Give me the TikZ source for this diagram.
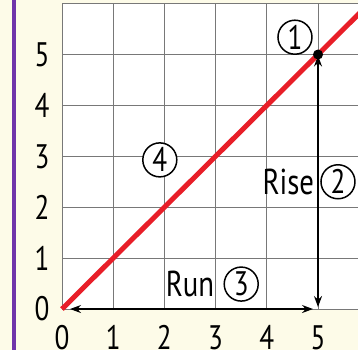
\documentclass[tikz,border=0pt]{standalone}
\usepackage{fontspec}
\setmainfont{PT Sans}[FakeStretch=0.8]
\usetikzlibrary{arrows.meta}
\definecolor{cream}{RGB}{253,251,232}
\definecolor{gridgray}{RGB}{120,120,120}
\definecolor{linered}{RGB}{232,30,40}
\definecolor{barpurple}{RGB}{112,52,170}
\tikzset{
  tick/.style={font=\fontsize{34}{36}\selectfont, inner sep=0pt},
  lbl/.style={font=\fontsize{36}{38}\selectfont, inner sep=0pt},
  circnum/.style={draw=black, line width=1.5pt, fill=white, circle, minimum size=34pt, inner sep=0pt, font=\fontsize{34}{36}\selectfont},
  measure/.style={line width=1.3pt, {Stealth[length=11pt,width=8pt]}-{Stealth[length=11pt,width=8pt]}},
}
\begin{document}
\begin{tikzpicture}[x=51.2pt,y=50.9pt]
\useasboundingbox (-1.211,-0.805) rectangle (5.781,6.071);
\clip (-1.211,-0.805) rectangle (5.781,6.071);
\fill[cream] (-1.211,-0.805) rectangle (5.781,6.071);
\fill[barpurple] (-0.985,-0.805) rectangle (-0.895,6.071);
\fill[white] (0,0) rectangle (5.9,6);
\foreach \i in {0,...,5} \draw[gridgray, line width=0.9pt] (\i,0) -- (\i,6);
\foreach \j in {0,...,6} \draw[gridgray, line width=0.9pt] (0,\j) -- (5.9,\j);
% tick labels
\foreach \i in {0,...,5} {
  \node[tick] (xl\i) at (\i,-0.56) {\i};
  \node[tick] (yl\i) at (-0.39,\i) {\i};
}
\coordinate (O) at (0,0);
\coordinate (X) at (5,0);
\coordinate (P) at (5,5);
\coordinate (E) at (6,6);
% measures
\draw[measure, shorten <=8pt, shorten >=5pt] (O) -- (X);
\draw[measure, shorten <=2pt, shorten >=1pt] (X) -- (P);
% red line
\draw[linered, line width=5pt] (O) -- (E);
\fill[black] (P) circle (5pt);
% labels
\node[circnum] (c1) at (4.55,5.34) {1};
\node[lbl] (rise) at (4.42,2.5) {Rise};
\node[circnum] (c2) at (5.39,2.5) {2};
\node[lbl] (run) at (2.5,0.49) {Run};
\node[circnum] (c3) at (3.5,0.49) {3};
\node[circnum] (c4) at (1.91,2.93) {4};
\end{tikzpicture}
\end{document}
